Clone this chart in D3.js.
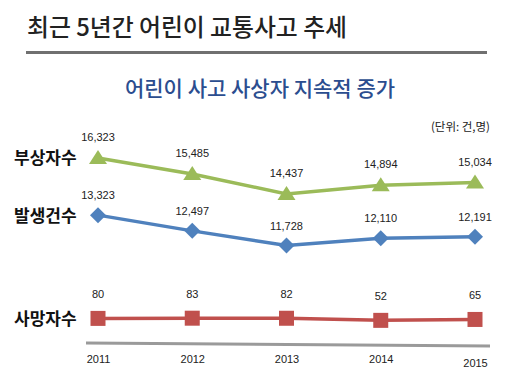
<!DOCTYPE html>
<html><head><meta charset="utf-8">
<script src="https://cdn.jsdelivr.net/npm/d3@7"></script>
<style>body{margin:0;background:#fff}svg{display:block}</style>
</head><body>
<script>
const years = ["2011","2012","2013","2014","2015"];
const injured = [16323,15485,14437,14894,15034];
const accidents = [13323,12497,11728,12110,12191];
const deaths = [80,83,82,52,65];
const seriesLabels = ["부상자수","발생건수","사망자수"];
const title = "최근 5년간 어린이 교통사고 추세";
const subtitle = "어린이 사고 사상자 지속적 증가";
const unitText = "(단위: 건,명)";

const W=519,H=380;
const kr = "'Noto Sans CJK KR','Noto Sans',sans-serif";
const svg = d3.select("body").append("svg").attr("width",W).attr("height",H);

svg.append("text").attr("x",27).attr("y",36).attr("font-family",kr).attr("font-size",24)
  .attr("font-weight",500).attr("fill","#222").attr("textLength",320).attr("lengthAdjust","spacingAndGlyphs").text(title);
svg.append("line").attr("x1",26).attr("x2",487).attr("y1",52.5).attr("y2",52.5)
  .attr("stroke","#707070").attr("stroke-width",3);
svg.append("text").attr("x",260).attr("y",96).attr("text-anchor","middle").attr("font-family",kr)
  .attr("font-size",21).attr("font-weight",500).attr("fill","#2b4d8f").text(subtitle);
svg.append("text").attr("x",490).attr("y",131).attr("text-anchor","end").attr("font-family",kr)
  .attr("font-size",11.5).attr("fill","#222").text(unitText);

const x = d3.scalePoint().domain(years).range([98,475]);
const y = d3.scaleLinear().domain([11728,16323]).range([245.5,158]);
const yd = d3.scaleLinear().domain([0,100]).range([324,317]);

// x axis
const xAxis = d3.axisBottom(x).tickSize(0).tickPadding(11);
const gx = svg.append("g").attr("transform","translate(0,344)").call(xAxis);
gx.select(".domain").remove();
gx.append("line").attr("x1",86).attr("x2",490).attr("y1",-1).attr("y2",2).attr("stroke","#9a9a9a").attr("stroke-width",3);
gx.selectAll(".tick text").attr("font-family","Arial,'Liberation Sans',sans-serif").attr("font-size",11).attr("fill","#222")
  .attr("dy",(d,i)=> i===4 ? "1.05em" : "0.71em");

const fmt = d3.format(",");
function drawSeries(vals, ys, color, shape, labelDy){
  const line = d3.line().x((d,i)=>x(years[i])).y(d=>ys(d));
  svg.append("path").attr("d",line(vals)).attr("fill","none").attr("stroke",color).attr("stroke-width",3.5);
  const g = svg.append("g");
  vals.forEach((v,i)=>{
    const cx=x(years[i]), cy=ys(v);
    if(shape==="tri"){
      g.append("path").attr("d",`M${cx},${cy-8}L${cx+9},${cy+6}L${cx-9},${cy+6}Z`).attr("fill",color);
    } else if(shape==="dia"){
      g.append("path").attr("d",`M${cx},${cy-8}L${cx+8},${cy}L${cx},${cy+8}L${cx-8},${cy}Z`).attr("fill",color);
    } else {
      g.append("rect").attr("x",cx-7.5).attr("y",cy-7.5).attr("width",15).attr("height",15).attr("fill",color);
    }
    g.append("text").attr("x",cx).attr("y",cy+labelDy).attr("text-anchor","middle")
      .attr("font-family","Arial,'Liberation Sans',sans-serif").attr("font-size",11).attr("fill","#222").text(fmt(v));
  });
}
drawSeries(injured,y,"#9bbb59","tri",-17);
drawSeries(accidents,y,"#4f81bd","dia",-16);
drawSeries(deaths,yd,"#c0504d","sq",-20);

const lblY=[y(injured[0])+3, y(accidents[0])+4, yd(deaths[0])+4];
seriesLabels.forEach((t,i)=>{
  svg.append("text").attr("x",14).attr("y",lblY[i]+3).attr("font-family",kr).attr("font-size",17)
    .attr("font-weight",700).attr("fill","#111").text(t);
});
</script>
</body></html>
